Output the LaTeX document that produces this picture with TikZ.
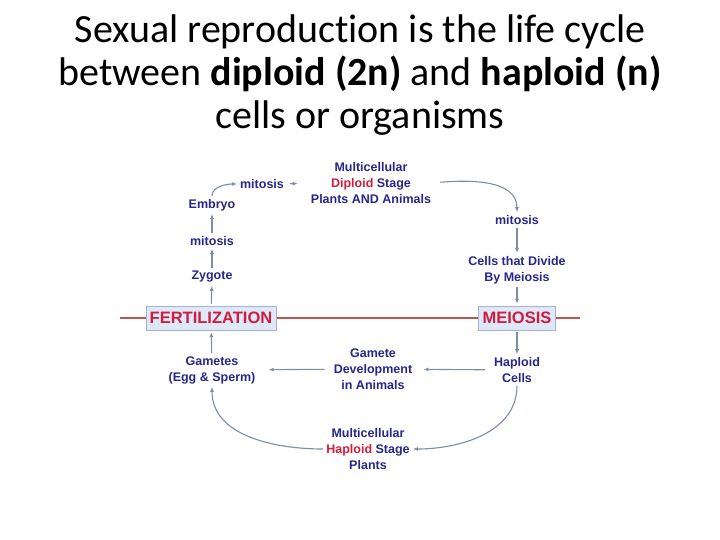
\documentclass[tikz,border=0pt]{standalone}
\usepackage{fontspec}
\setmainfont{Carlito}[RawFeature={-liga;-calt;-clig;-dlig}]
\newfontfamily\diagfont{Liberation Sans}
\usetikzlibrary{arrows.meta,positioning}
\definecolor{TextBlue}{RGB}{38,38,140}
\definecolor{StageRed}{RGB}{205,30,60}
\definecolor{FillStage}{RGB}{222,232,248}
\definecolor{EdgeStage}{RGB}{160,180,205}
\definecolor{LineRed}{RGB}{190,85,85}
\definecolor{ArrGray}{RGB}{125,142,160}

\begin{document}
\begin{tikzpicture}[x=1pt, y=-1pt,
    title/.style={font=\fontsize{40}{43}\selectfont, align=center, text=black},
    lbl/.style={font=\diagfont\bfseries\fontsize{12.5}{16}\selectfont, text=TextBlue, align=center, inner sep=1pt},
    stage/.style={draw=EdgeStage, fill=FillStage, font=\diagfont\bfseries\fontsize{16.5}{18}\selectfont, text=StageRed, minimum height=24pt, inner xsep=4pt, inner ysep=2pt},
    arr/.style={-{Latex[length=5pt,width=4pt]}, ArrGray, line width=1.1pt, shorten <=2pt, shorten >=2pt}
]
\useasboundingbox (0,0) rectangle (720,540);

%% ---- TITLE ----
\node[title] (head) at (360,75) {Sexual reproduction is the life cycle\\
  between \textbf{diploid (2n)} and \textbf{haploid (n)}\\
  cells or organisms};

%% ---- MIDLINE ----
\draw[LineRed, line width=1.2pt] (120,318) -- (580,318);

%% ---- STAGES ----
\node[stage] (fert)   at (211,318) {FERTILIZATION};
\node[stage] (meio)   at (517,318) {MEIOSIS};

%% ---- DIPLOID SIDE ----
\node[lbl] (dip)     at (371,183) {Multicellular\\\textcolor{StageRed}{Diploid} Stage\\Plants AND Animals};
\node[lbl] (mitA)    at (262,184) {mitosis};
\node[lbl] (embryo)  at (212,205) {Embryo};
\node[lbl] (mitB)    at (212,241) {mitosis};
\node[lbl] (zygote)  at (212,277) {Zygote};
\node[lbl] (mitC)    at (517,220) {mitosis};
\node[lbl] (cells)   at (517,270) {Cells that Divide\\By Meiosis};

%% ---- HAPLOID SIDE ----
\node[lbl] (hapc)    at (517,370) {Haploid\\Cells};
\node[lbl] (gamdev)  at (373,369) {Gamete\\Development\\in Animals};
\node[lbl] (gametes) at (212,370) {Gametes\\(Egg \& Sperm)};
\node[lbl] (hap)     at (368,449) {Multicellular\\\textcolor{StageRed}{Haploid} Stage\\Plants};

%% ---- ARROWS ----
\draw[arr] (fert)    -- (zygote);
\draw[arr] (zygote)  -- (mitB);
\draw[arr] (mitB)    -- (embryo);
\draw[arr] (embryo.north) to[out=90, in=180] (mitA.west);
\draw[arr, shorten <=5pt, shorten >=12pt] (mitA.east) -- (dip.west);
\draw[arr, shorten <=8pt] (dip.east) to[out=5, in=90] (mitC.north);
\draw[arr] (mitC)    -- (cells);
\draw[arr] (cells)   -- (meio);
\draw[arr] (meio)    -- (hapc);
\draw[arr, shorten <=8pt, shorten >=10pt] (hapc) -- (gamdev);
\draw[arr, shorten <=8pt, shorten >=12pt] (gamdev)  -- (gametes);
\draw[arr] (gametes) -- (fert);
\draw[arr] (hapc.south) to[out=-90, in=0] (hap.east);
\draw[arr] (hap.west) to[out=180, in=-90] (gametes.south);

\end{tikzpicture}
\end{document}
